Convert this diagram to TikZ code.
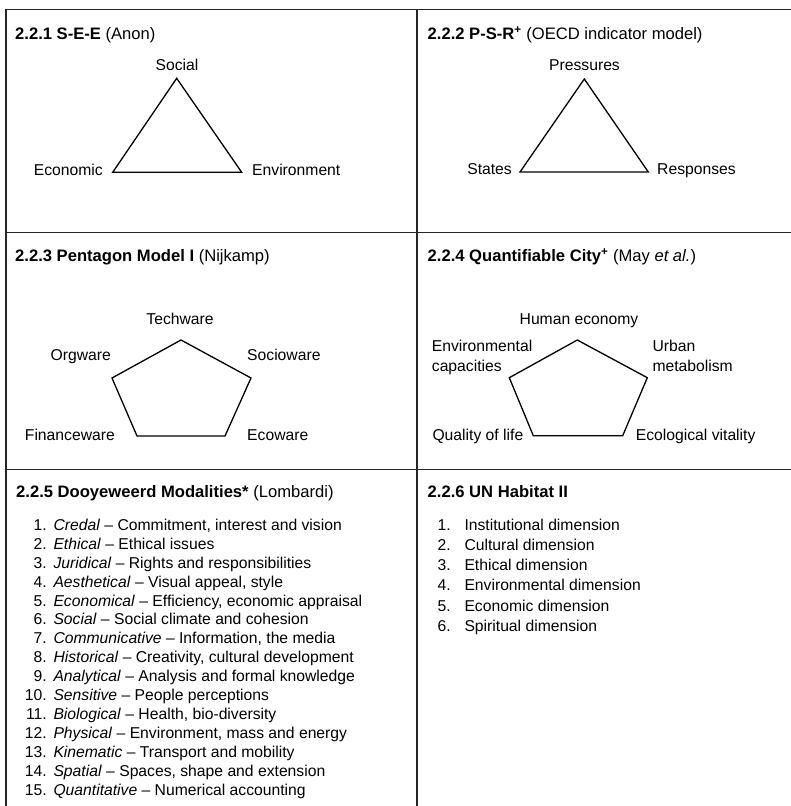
\documentclass[tikz,border=0pt]{standalone}
\usepackage{fontspec}
\setmainfont{Liberation Sans}
\begin{document}
\begin{tikzpicture}[x=1pt,y=-1pt,
  frame/.style={line width=1.5pt, black!85},
  figline/.style={line width=1.3pt, line join=miter},
  lbl/.style={inner sep=0pt, font=\fontsize{15.7}{18.9}\selectfont},
  ttl/.style={inner sep=0pt, anchor=base west, font=\fontsize{16.6}{20}\selectfont},
  num/.style={lbl, anchor=base east},
  entry/.style={lbl, anchor=base west}]
\useasboundingbox (0,0) rectangle (791,806);

% ---------- frame ----------
\coordinate (tl) at (6,9.5);
\coordinate (tr) at (791,9.5);
\coordinate (bl) at (6,806);
\coordinate (mt) at (417,9.5);
\coordinate (mb) at (417,806);
\coordinate (r1l) at (6,232.5);
\coordinate (r1r) at (791,232.5);
\coordinate (r2l) at (6,469.5);
\coordinate (r2r) at (791,469.5);
\draw[frame] (bl) -- (tl) -- (tr);
\draw[frame] (mt) -- (mb);
\draw[frame] (r1l) -- (r1r);
\draw[frame] (r2l) -- (r2r);

% ---------- 2.2.1 ----------
\node[ttl] (t1) at (15,39) {\textbf{2.2.1 S-E-E} (Anon)};
\coordinate (s1) at (176.7,78.3);
\coordinate (s2) at (112.7,172.3);
\coordinate (s3) at (241.7,172.3);
\draw[figline] (s1) -- (s2) -- (s3) -- cycle;
\node[lbl, anchor=base] (social) at (177,70) {Social};
\node[lbl, anchor=base east] (econ) at (103,175) {Economic};
\node[lbl, anchor=base west] (envir) at (252,175) {Environment};

% ---------- 2.2.2 ----------
\node[ttl] (t2) at (427.5,39.3) {\textbf{2.2.2 P-S-R\textsuperscript{+}} (OECD indicator model)};
\coordinate (p1) at (584.3,79);
\coordinate (p2) at (520,172);
\coordinate (p3) at (648.3,172);
\draw[figline] (p1) -- (p2) -- (p3) -- cycle;
\node[lbl, anchor=base] (press) at (584.5,70) {Pressures};
\node[lbl, anchor=base east] (states) at (512,174.5) {States};
\node[lbl, anchor=base west] (resp) at (657,174.5) {Responses};

% ---------- 2.2.3 ----------
\node[ttl] (t3) at (15,261) {\textbf{2.2.3 Pentagon Model I} (Nijkamp)};
\coordinate (a1) at (181,340);
\coordinate (a2) at (251,378);
\coordinate (a3) at (225,436);
\coordinate (a4) at (137,436);
\coordinate (a5) at (112,378);
\draw[figline] (a1) -- (a2) -- (a3) -- (a4) -- (a5) -- cycle;
\node[lbl, anchor=base] (tech) at (180,324.3) {Techware};
\node[lbl, anchor=base east] (org) at (111,360) {Orgware};
\node[lbl, anchor=base west] (socio) at (247,360) {Socioware};
\node[lbl, anchor=base east] (fin) at (115,440) {Financeware};
\node[lbl, anchor=base west] (eco) at (247,440) {Ecoware};

% ---------- 2.2.4 ----------
\node[ttl] (t4) at (427.5,261.7) {\textbf{2.2.4 Quantifiable City\textsuperscript{+}} (May \textit{et al.})};
\coordinate (b1) at (577.3,340);
\coordinate (b2) at (647.3,377.7);
\coordinate (b3) at (622.7,435.7);
\coordinate (b4) at (533.3,435.7);
\coordinate (b5) at (509.3,377.7);
\draw[figline] (b1) -- (b2) -- (b3) -- (b4) -- (b5) -- cycle;
\node[lbl, anchor=base] (human) at (579,324.3) {Human economy};
\node[lbl, anchor=base west] (envcapA) at (431.7,351.7) {Environmental};
\node[lbl, anchor=base west] (envcapB) at (431.7,371.7) {capacities};
\node[lbl, anchor=base west] (urbA) at (652.3,351.7) {Urban};
\node[lbl, anchor=base west] (urbB) at (652.3,371.7) {metabolism};
\node[lbl, anchor=base west] (qol) at (432.3,440) {Quality of life};
\node[lbl, anchor=base west] (ecovit) at (635.7,440) {Ecological vitality};

% ---------- 2.2.5 ----------
\node[ttl] (t5) at (16,497.3) {\textbf{2.2.5 Dooyeweerd Modalities*} (Lombardi)};
\foreach \n/\a/\b in {
  1/Credal/{Commitment, interest and vision},
  2/Ethical/{Ethical issues},
  3/Juridical/{Rights and responsibilities},
  4/Aesthetical/{Visual appeal, style},
  5/Economical/{Efficiency, economic appraisal},
  6/Social/{Social climate and cohesion},
  7/Communicative/{Information, the media},
  8/Historical/{Creativity, cultural development},
  9/Analytical/{Analysis and formal knowledge},
  10/Sensitive/{People perceptions},
  11/Biological/{Health, bio-diversity},
  12/Physical/{Environment, mass and energy},
  13/Kinematic/{Transport and mobility},
  14/Spatial/{Spaces, shape and extension},
  15/Quantitative/{Numerical accounting}} {
  \node[num] (dn\n) at (47,{530.3+(\n-1)*18.93}) {\n.};
  \node[entry] (dm\n) at (53.3,{530.3+(\n-1)*18.93}) {\textit{\a} -- \b};
}

% ---------- 2.2.6 ----------
\node[ttl] (t6) at (427.5,497.7) {\textbf{2.2.6 UN Habitat II}};
\foreach \n/\b in {
  1/Institutional dimension,
  2/Cultural dimension,
  3/Ethical dimension,
  4/Environmental dimension,
  5/Economic dimension,
  6/Spiritual dimension} {
  \node[num] (hn\n) at (451,{530+(\n-1)*20.3}) {\n.};
  \node[entry] (hm\n) at (464.3,{530+(\n-1)*20.3}) {\b};
}
\end{tikzpicture}
\end{document}
